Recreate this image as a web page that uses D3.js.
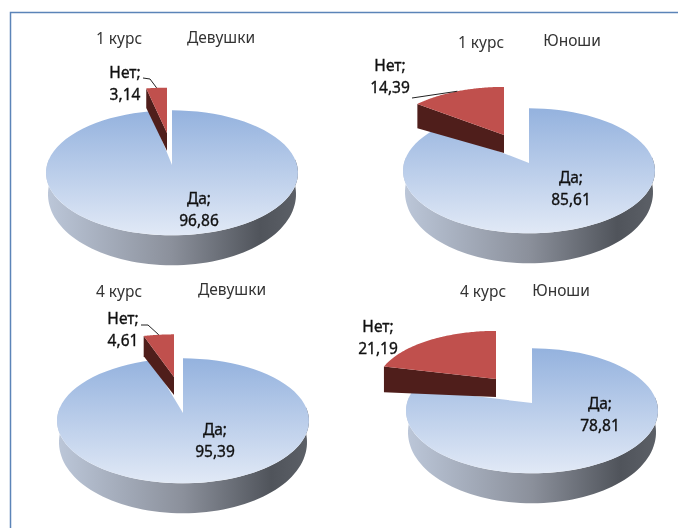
<!DOCTYPE html>
<html>
<head>
<meta charset="utf-8">
<script src="https://cdn.jsdelivr.net/npm/d3@7/dist/d3.min.js"></script>
<style>
html, body { margin: 0; padding: 0; background: #fff; }
svg { display: block; filter: blur(0.45px); }
text { font-family: "Noto Sans", sans-serif; text-anchor: middle; }
</style>
</head>
<body>
<div id="chart"></div>
<script>
// values
var categories = ["Нет", "Да"];
var courses = ["1 курс", "1 курс", "4 курс", "4 курс"];
var groups = ["Девушки", "Юноши", "Девушки", "Юноши"];
var netValues = [3.14, 14.39, 4.61, 21.19];
var daValues = [96.86, 85.61, 95.39, 78.81];

// where each pie sits on the page
var layout = [
    { cx: 172, cy: 165, redX: 167, redY: 133, squash: 0.83, course: [119, 39], group: [221, 38], net: [125, 73], da: [199, 199], leader: [[143, 78], [150, 79]] },
    { cx: 529, cy: 163, redX: 504, redY: 135, squash: 0.88, course: [481, 43], group: [572, 41], net: [390, 66], da: [571, 178], leader: [[412, 98]] },
    { cx: 183, cy: 413, redX: 174, redY: 377, squash: 0.78, course: [119, 292], group: [232, 290], net: [123, 319], da: [215, 430], leader: [[141, 325], [148, 325]] },
    { cx: 532, cy: 403, redX: 496, redY: 379, squash: 0.88, course: [483, 292], group: [561, 291], net: [378, 327], da: [600, 404], leader: null }
];

var w = 678;
var h = 528;
var R = 125;
var Rt = 61.5;
var k = 0.125;
var redScale = 0.95;

var svg = d3.select("#chart").append("svg")
    .attr("width", w)
    .attr("height", h);

var defs = svg.append("defs");

// Vertical gradient on the pie tops
var topGrad = defs.append("linearGradient")
    .attr("id", "topGrad")
    .attr("x1", 0).attr("y1", 0).attr("x2", 0).attr("y2", 1);
topGrad.append("stop").attr("offset", 0).attr("stop-color", "#94b2de");
topGrad.append("stop").attr("offset", 1).attr("stop-color", "#e1e9f6");

// Horizontal gradient on the pie sides
var wallGrad = defs.append("linearGradient")
    .attr("id", "wallGrad")
    .attr("x1", 0).attr("y1", 0).attr("x2", 1).attr("y2", 0);
wallGrad.append("stop").attr("offset", 0).attr("stop-color", "#bcc7d9");
wallGrad.append("stop").attr("offset", 0.5).attr("stop-color", "#8b909b");
wallGrad.append("stop").attr("offset", 0.85).attr("stop-color", "#50545b");
wallGrad.append("stop").attr("offset", 1).attr("stop-color", "#5c6067");

// Outer frame, only top and left are in the crop
svg.append("path")
    .attr("d", "M10.5,528V12.5H678")
    .attr("fill", "none")
    .attr("stroke", "#5b84b8")
    .attr("stroke-width", 1.5);

var pie = d3.pie().sort(null).value(function(d) { return d; });
var line = d3.line();

// Perspective projection of a point on the unit disc at angle a
function project(a, ox, oy, squash, scale) {
    var u = Math.sin(a);
    var v = -Math.cos(a);
    var s = 1 - k * v;
    return [ox + R * scale * u / s, oy + Rt * squash * v / s];
}

function depth(a) {
    var v = -Math.cos(a);
    return 20 + 10 * Math.max(v, 0);
}

function sector(a0, a1, ox, oy, squash, scale) {
    var pts = [[ox, oy]];
    var n = 80;
    d3.range(n + 1).forEach(function(i) {
        pts.push(project(a0 + (a1 - a0) * i / n, ox, oy, squash, scale));
    });
    return line(pts) + "Z";
}

function wall(a0, a1, ox, oy) {
    var n = 80;
    var upper = [];
    var lower = [];
    d3.range(n + 1).forEach(function(i) {
        var a = a0 + (a1 - a0) * i / n;
        var p = project(a, ox, oy, 1, 1);
        upper.push(p);
        lower.unshift([p[0] - 2 * Math.sin(a), p[1] + depth(a)]);
    });
    return line(upper.concat(lower)) + "Z";
}

function fmt(v) {
    return d3.format(".2f")(v).replace(".", ",");
}

layout.forEach(function(p, i) {
    var g = svg.append("g");
    var arcs = pie([netValues[i], daValues[i]]);

    // Нет goes first in the data, turn it so Да starts at twelve o'clock
    var netSpan = arcs[0].endAngle - arcs[0].startAngle;
    var daStart = 0;
    var daEnd = 2 * Math.PI - netSpan;

    // Да: side, then top
    var wallFrom = Math.PI / 2 - 0.1;
    var wallTo = Math.min(daEnd, 3 * Math.PI / 2 + 0.1);
    g.append("path")
        .attr("d", wall(wallFrom, wallTo, p.cx, p.cy))
        .attr("fill", "url(#wallGrad)");
    g.append("path")
        .attr("d", sector(daStart, daEnd, p.cx, p.cy, 1, 1))
        .attr("fill", "url(#topGrad)");

    // Нет: cut face, then top
    var corner = project(-netSpan, p.redX, p.redY, p.squash, redScale);
    var cornerDepth = 18 + 8 * Math.abs(Math.sin(netSpan));
    g.append("path")
        .attr("d", line([
            corner,
            [p.redX, p.redY],
            [p.redX, p.redY + 18],
            [corner[0], corner[1] + cornerDepth]
        ]) + "Z")
        .attr("fill", "#4f1e1b");
    g.append("path")
        .attr("d", sector(-netSpan, 0, p.redX, p.redY, p.squash, redScale))
        .attr("fill", "#c0504d");

    // Leader from the label to the middle of the red arc
    if (p.leader) {
        var mid = project(-netSpan / 2, p.redX, p.redY, p.squash, redScale);
        g.append("path")
            .attr("d", line(p.leader.concat([mid])))
            .attr("fill", "none")
            .attr("stroke", "#222")
            .attr("stroke-width", 1);
    }

    // Titles
    g.append("text").attr("x", p.course[0]).attr("y", p.course[1] + 5)
        .attr("font-size", 15.5).attr("fill", "#333").text(courses[i]);
    g.append("text").attr("x", p.group[0]).attr("y", p.group[1] + 5)
        .attr("font-size", 15.5).attr("fill", "#333").text(groups[i]);

    // Data labels, two lines each
    [[p.net, categories[0], netValues[i]], [p.da, categories[1], daValues[i]]].forEach(function(l) {
        [l[1] + ";", fmt(l[2])].forEach(function(s, j) {
            g.append("text").attr("x", l[0][0]).attr("y", l[0][1] + 5 + j * 22)
                .attr("font-size", 15.5)
                .attr("fill", "#111")
                .attr("stroke", "#111")
                .attr("stroke-width", 0.35)
                .text(s);
        });
    });
});
</script>
</body>
</html>
